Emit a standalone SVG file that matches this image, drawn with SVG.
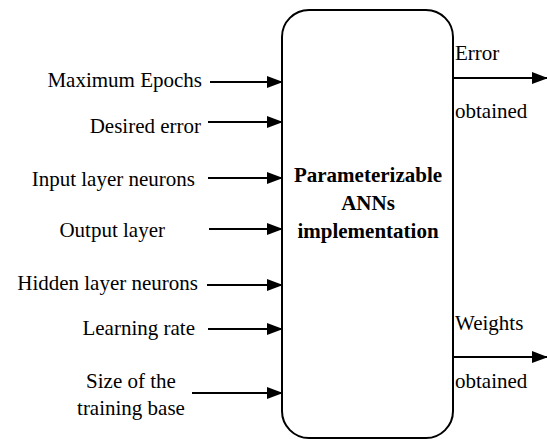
<svg xmlns="http://www.w3.org/2000/svg" width="547" height="439" viewBox="0 0 547 439">
<defs>
<style>
.ln{stroke:#000;stroke-width:2;fill:none}
.box{stroke:#000;stroke-width:2;fill:#fff}
</style>
<marker id="ah" markerWidth="16" markerHeight="12" refX="15" refY="6" orient="auto" markerUnits="userSpaceOnUse">
<path d="M0,0 L16,6 L0,12 Z" fill="#000"/>
</marker>
</defs>
<rect width="547" height="439" fill="#fff"/>
<g id="connectors">
<line class="ln" x1="210" y1="82" x2="282" y2="82" marker-end="url(#ah)"/>
<line class="ln" x1="208" y1="122" x2="282" y2="122" marker-end="url(#ah)"/>
<line class="ln" x1="208" y1="178" x2="282" y2="178" marker-end="url(#ah)"/>
<line class="ln" x1="209" y1="229" x2="282" y2="229" marker-end="url(#ah)"/>
<line class="ln" x1="207" y1="285" x2="282" y2="285" marker-end="url(#ah)"/>
<line class="ln" x1="208" y1="329" x2="282" y2="329" marker-end="url(#ah)"/>
<line class="ln" x1="192" y1="393" x2="282" y2="393" marker-end="url(#ah)"/>
<line class="ln" x1="453" y1="78" x2="547" y2="78" marker-end="url(#ah)"/>
<line class="ln" x1="453" y1="357" x2="547" y2="357" marker-end="url(#ah)"/>
</g>
<g font-family="'Liberation Serif', 'Times New Roman', serif" font-size="21" fill="#000">
<g id="ann">
<rect class="box" x="282" y="10" width="171" height="428" rx="27" ry="27"/>
<text font-weight="bold" x="368" y="182" text-anchor="middle">Parameterizable</text>
<text font-weight="bold" x="368" y="210" text-anchor="middle">ANNs</text>
<text font-weight="bold" x="368" y="238" text-anchor="middle">implementation</text>
</g>
<g id="in-epochs"><text x="202" y="87" text-anchor="end">Maximum Epochs</text></g>
<g id="in-error"><text x="201" y="133" text-anchor="end">Desired error</text></g>
<g id="in-input"><text x="195" y="186" text-anchor="end">Input layer neurons</text></g>
<g id="in-output"><text x="165" y="237" text-anchor="end">Output layer</text></g>
<g id="in-hidden"><text x="198" y="290" text-anchor="end">Hidden layer neurons</text></g>
<g id="in-rate"><text x="195" y="335" text-anchor="end">Learning rate</text></g>
<g id="in-size"><text x="131" y="388" text-anchor="middle">Size of the</text><text x="131" y="415" text-anchor="middle">training base</text></g>
<g id="out-error"><text x="455" y="60">Error</text><text x="455" y="118">obtained</text></g>
<g id="out-weights"><text x="455" y="330">Weights</text><text x="455" y="388">obtained</text></g>
</g>
</svg>
